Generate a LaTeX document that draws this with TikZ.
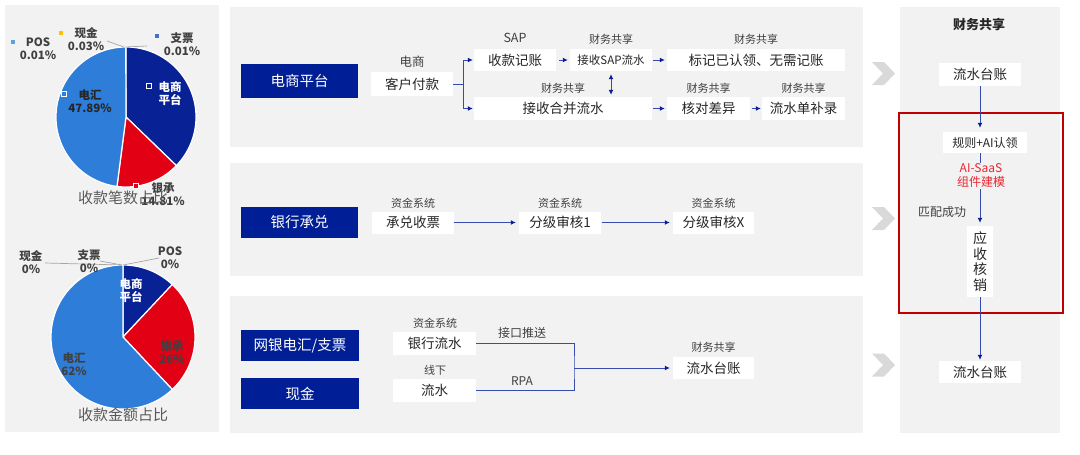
\documentclass[tikz,border=0pt]{standalone}
\usepackage{fontspec}
\setmainfont{Noto Sans CJK SC}
\usetikzlibrary{arrows.meta}
\definecolor{navy}{RGB}{0,30,150}
\definecolor{panel}{RGB}{242,242,242}
\definecolor{lineblue}{RGB}{55,75,175}
\definecolor{tipblue}{RGB}{10,30,150}
\definecolor{txt}{RGB}{38,38,38}
\definecolor{lab}{RGB}{64,64,64}
\definecolor{chev}{RGB}{217,217,217}
\definecolor{frame}{RGB}{192,0,0}
\definecolor{aired}{RGB}{232,40,50}
\definecolor{pienavy}{RGB}{8,34,150}
\definecolor{piered}{RGB}{225,0,20}
\definecolor{pieblue}{RGB}{46,125,216}
\definecolor{leader}{RGB}{166,166,166}
\definecolor{titlegray}{RGB}{89,89,89}
\definecolor{posblue}{RGB}{91,163,224}
\definecolor{cashyellow}{RGB}{255,192,0}
\definecolor{chqblue}{RGB}{68,114,196}
\newcommand\myfs[1]{\fontsize{#1}{#1}\selectfont}
\tikzset{
  panelbox/.style={fill=panel, draw=none},
  catbox/.style={fill=navy, text=white, font=\myfs{14.5}, minimum width=117pt, minimum height=31pt, inner sep=0pt},
  wbox/.style={fill=white, text=txt, font=\myfs{13.5}, inner sep=0pt, minimum height=22pt},
  lbl/.style={font=\myfs{11}, text=lab, inner sep=0pt},
  pl/.style={font=\bfseries\fontsize{11.5}{13}\selectfont, align=center, inner sep=0pt, text=lab},
  conn/.style={draw=lineblue, line width=1pt},
  arr/.style={conn, -{Latex[length=5pt,width=5pt,color=tipblue]}},
  darr/.style={conn, {Latex[length=5pt,width=5pt,color=tipblue]}-{Latex[length=5pt,width=5pt,color=tipblue]}},
  slice/.style={draw=white, line width=1.2pt},
  leaderline/.style={draw=leader, line width=0.7pt},
  marker/.style={line width=1pt},
  chevron/.style={fill=chev, draw=none},
  pietitle/.style={font=\myfs{15}, text=titlegray, inner sep=0pt}
}
\begin{document}
\begin{tikzpicture}[x=1pt,y=-1pt]
\useasboundingbox[fill=white] (0,0) rectangle (1080,455);

% ---------- panels ----------
\path[panelbox] (5,5) rectangle (219,432);
\path[panelbox] (230,7) rectangle (863,147);
\path[panelbox] (230,163) rectangle (863,276);
\path[panelbox] (230,296) rectangle (863,433);
\path[panelbox] (900,7) rectangle (1060,433);

% ---------- chevrons ----------
\foreach \cy in {73.5,218.5,365}{
  \path[chevron] (872,\cy-11.5) -- (884,\cy-11.5) -- (895,\cy) -- (884,\cy+11.5) -- (872,\cy+11.5) -- (883,\cy) -- cycle;
}

% ---------- pie 1 ----------
\begin{scope}[shift={(126,117)}, yscale=-1]
  \path[slice, fill=pienavy] (0,0) -- (90:70) arc[start angle=90, end angle=-44, radius=70] -- cycle;
  \path[slice, fill=piered] (0,0) -- (-44:70) arc[start angle=-44, end angle=-97.4, radius=70] -- cycle;
  \path[slice, fill=pieblue] (0,0) -- (-97.4:70) arc[start angle=-97.4, end angle=-269.8, radius=70] -- cycle;
\end{scope}
\draw[leaderline] (107,41) -- (124,47);
\draw[leaderline] (147,46) -- (125,47);
\fill[posblue] (11,40) rectangle (15,44);
\fill[cashyellow] (59,31) rectangle (63,35);
\fill[chqblue] (155,34) rectangle (159,38);
\node[pl] (p1pos) at (38,48.5) {POS\\0.01\%};
\node[pl] (p1cash) at (86,39.5) {现金\\0.03\%};
\node[pl] (p1chq) at (182,44) {支票\\0.01\%};
\draw[marker, draw=white, fill=pienavy] (146.5,83.5) rectangle (151.5,88.5);
\node[pl, text=white] (p1ds) at (170,93.5) {电商\\平台};
\draw[marker, draw=white, fill=pieblue] (61.5,91.5) rectangle (66.5,96.5);
\node[pl, text=txt] (p1dh) at (90,101) {电汇\\47.89\%};
\draw[marker, draw=white, fill=piered] (133.5,183.5) rectangle (138.5,188.5);
\node[pl] (p1yc) at (163,194) {银承\\14.81\%};
\node[pietitle] (t1) at (123,198) {收款笔数占比};

% ---------- pie 2 ----------
\begin{scope}[shift={(123,337)}, yscale=-1]
  \path[slice, fill=pienavy] (0,0) -- (90:72) arc[start angle=90, end angle=46.8, radius=72] -- cycle;
  \path[slice, fill=piered] (0,0) -- (46.8:72) arc[start angle=46.8, end angle=-46.8, radius=72] -- cycle;
  \path[slice, fill=pieblue] (0,0) -- (-46.8:72) arc[start angle=-46.8, end angle=-270, radius=72] -- cycle;
\end{scope}
\draw[leaderline] (45,263) -- (122,265);
\draw[leaderline] (100,261) -- (122,265);
\draw[leaderline] (159,258) -- (123,265);
\node[pl] (p2cash) at (31,262.5) {现金\\0\%};
\node[pl] (p2chq) at (89,261) {支票\\0\%};
\node[pl] (p2pos) at (170,257.5) {POS\\0\%};
\node[pl, text=white] (p2ds) at (131,291) {电商\\平台};
\node[pl, text=lab] (p2yc) at (172,352.5) {银承\\26\%};
\node[pl, text=lab] (p2dh) at (74,364) {电汇\\62\%};
\node[pietitle] (t2) at (123,415) {收款金额占比};

% ---------- top panel ----------
\node[catbox, minimum height=34pt] (cat1) at (299.5,81) {电商平台};
\node[lbl, font=\myfs{12.5}] (l_ds) at (412,62) {电商};
\node[wbox, minimum width=82pt, minimum height=24pt] (pay) at (412,84) {客户付款};
\node[lbl, font=\myfs{12.5}] (l_sap) at (515,38) {SAP};
\node[wbox, minimum width=82pt] (sk) at (515,60) {收款记账};
\node[lbl] (l_js) at (611,39) {财务共享};
\node[wbox, minimum width=82pt, font=\myfs{11.5}] (jsap) at (611,60) {接收SAP流水};
\node[lbl] (l_bj) at (756,39) {财务共享};
\node[wbox, minimum width=178pt] (mark) at (756,60) {标记已认领、无需记账};
\node[lbl] (l_hb) at (563,88) {财务共享};
\node[wbox, minimum width=178pt, minimum height=23pt] (merge) at (563,108.5) {接收合并流水};
\node[lbl] (l_hd) at (708.5,88) {财务共享};
\node[wbox, minimum width=83pt, minimum height=23pt] (hd) at (708.5,108.5) {核对差异};
\node[lbl] (l_bl) at (803.5,88) {财务共享};
\node[wbox, minimum width=83pt, minimum height=23pt] (bl) at (803.5,108.5) {流水单补录};
\coordinate (br) at (463,84);
\draw[conn] (pay.east) -- (br);
\draw[arr] (br) |- ([xshift=-1pt]sk.west);
\draw[arr] (br) |- ([xshift=-1pt]merge.west);
\draw[arr, shorten <=3pt, shorten >=2pt] (sk.east) -- (jsap.west);
\draw[arr, shorten <=1pt, shorten >=2pt] (jsap.east) -- (mark.west);
\draw[darr, shorten <=3pt, shorten >=2pt] (jsap.south) -- (merge.north -| jsap.south);
\draw[arr, shorten <=1pt, shorten >=2pt] (merge.east) -- (hd.west);
\draw[arr, shorten <=2pt, shorten >=1pt] (hd.east) -- (bl.west);

% ---------- middle panel ----------
\node[catbox] (cat2) at (299.5,222.5) {银行承兑};
\node[lbl] (l_cd) at (413,203) {资金系统};
\node[wbox, minimum width=82pt] (cd) at (413,222.5) {承兑收票};
\node[lbl] (l_f1) at (560,203) {资金系统};
\node[wbox, minimum width=82pt] (fj1) at (560,222.5) {分级审核1};
\node[lbl] (l_fx) at (713.5,203) {资金系统};
\node[wbox, minimum width=81pt] (fjx) at (713.5,222.5) {分级审核X};
\draw[arr, shorten >=3pt] (cd.east) -- (fj1.west);
\draw[arr, shorten <=1pt, shorten >=3pt] (fj1.east) -- (fjx.west);

% ---------- bottom panel ----------
\node[catbox, minimum width=118pt] (cat3) at (300,345.5) {网银电汇/支票};
\node[catbox, minimum width=118pt] (cat4) at (300,393.5) {现金};
\node[lbl] (l_yh) at (435,323) {资金系统};
\node[wbox, minimum width=83pt, minimum height=23pt] (yhls) at (434.5,343.5) {银行流水};
\node[lbl] (l_xx) at (435,370) {线下};
\node[wbox, minimum width=83pt, minimum height=23pt] (ls) at (434.5,390.5) {流水};
\node[lbl, font=\myfs{12}] (l_jk) at (522,333) {接口推送};
\node[lbl, font=\myfs{12}] (l_rpa) at (522,381) {RPA};
\node[lbl] (l_tz) at (713.5,347) {财务共享};
\node[wbox, minimum width=81pt] (lstz) at (713.5,368) {流水台账};
\coordinate (jn) at (574,368);
\draw[conn] (yhls.east) -| (jn) |- (ls.east);
\draw[arr, shorten >=3pt] (jn) -- (lstz.west);

% ---------- right panel ----------
\node[font=\bfseries\myfs{13}, text=txt, inner sep=0pt] (rtitle) at (979,25) {财务共享};
\node[wbox, minimum width=82pt, minimum height=23pt] (r1) at (980,74.5) {流水台账};
\draw[frame, line width=2pt] (899,113) rectangle (1063,313);
\node[wbox, minimum width=84pt, minimum height=21pt, font=\myfs{12}] (gz) at (985,142.5) {规则+AI认领};
\node[font=\fontsize{12}{14}\selectfont, text=aired, align=center, inner sep=1pt] (ai) at (981,176) {AI-SaaS\\组件建模};
\node[lbl, font=\myfs{12}] (l_pp) at (942,212) {匹配成功};
\node[wbox, minimum width=26pt, minimum height=71pt, align=center, font=\fontsize{14}{15.5}\selectfont] (ys) at (980,261.5) {应\\收\\核\\销};
\node[wbox, minimum width=82pt] (r2) at (980,372) {流水台账};
\draw[arr, shorten >=4pt] (r1.south) -- (r1.south |- gz.north);
\draw[conn] (gz.south -| r1.south) -- (ai.north -| r1.south);
\draw[arr, shorten >=3pt] (ai.south -| r1.south) -- (ys.north);
\draw[arr, shorten >=1pt] (ys.south) -- (r2.north);
\end{tikzpicture}
\end{document}
